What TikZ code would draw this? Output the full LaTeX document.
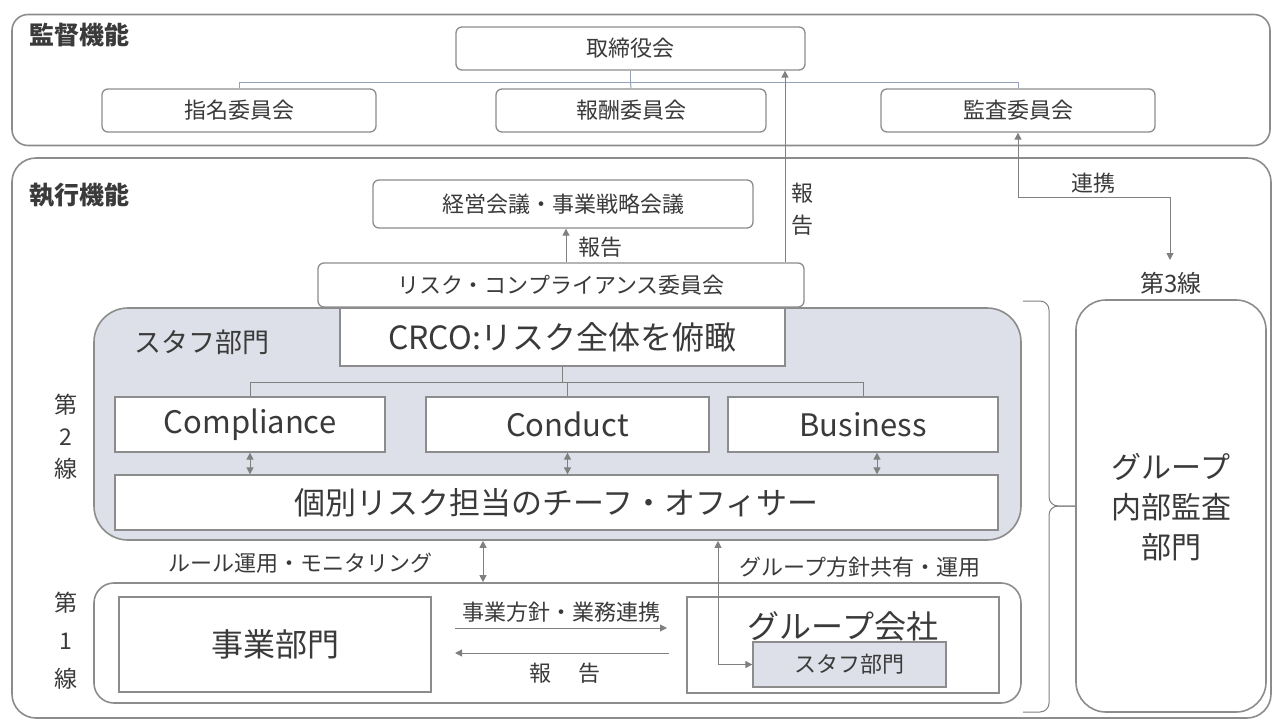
\documentclass[tikz,border=0pt]{standalone}
\usepackage{fontspec}
\setmainfont{Noto Sans CJK JP}
\usepackage{tikz}
\usetikzlibrary{arrows.meta,positioning}

\definecolor{txtgray}{RGB}{58,58,58}
\definecolor{bdgray}{RGB}{140,140,140}
\definecolor{lngray}{RGB}{128,128,128}
\definecolor{blgray}{RGB}{150,162,188}
\definecolor{stafffill}{RGB}{221,224,232}
\newcommand{\fsz}[2]{\fontsize{#1}{#2}\selectfont}

\begin{document}
\begin{tikzpicture}[x=1pt,y=-1pt,
  box/.style={draw=bdgray,line width=1.3pt,rounded corners=6pt,fill=white,
              inner sep=0pt,text=txtgray,font=\fsz{22}{26}},
  sqbox/.style={draw=bdgray,line width=1.3pt,fill=white,inner sep=0pt,text=txtgray},
  area/.style={draw=bdgray,line width=1.6pt,inner sep=0pt},
  lbl/.style={text=txtgray,inner sep=0pt,font=\fsz{22}{26}},
  conn/.style={draw=blgray,line width=1pt},
  link/.style={draw=lngray,line width=1pt},
  tri/.tip={Triangle[width=7pt,length=7pt]},
  up/.style={link,-tri},
  both/.style={link,tri-tri}]
\useasboundingbox (0,0) rectangle (1272,720);

% oversight
\node[area,rounded corners=16pt,minimum width=1258pt,minimum height=131pt] (oversight) at (641,80) {};
\node[lbl,anchor=west,font=\fsz{25}{28}\bfseries] (oversightlbl) at (29,35) {監督機能};
\node[box,minimum width=349pt,minimum height=43pt] (board) at (630.5,48.5) {取締役会};
\node[box,minimum width=274pt,minimum height=43pt] (nomin) at (239,110.5) {指名委員会};
\node[box,minimum width=270pt,minimum height=43pt] (remun) at (631,110.5) {報酬委員会};
\node[box,minimum width=274pt,minimum height=43pt] (audit) at (1018,110.5) {監査委員会};

% execution
\node[area,rounded corners=24pt,minimum width=1259pt,minimum height=560pt] (exec) at (641.5,438) {};
\node[lbl,anchor=west,font=\fsz{25}{28}\bfseries] (execlbl) at (29,195) {執行機能};
\node[box,minimum width=380pt,minimum height=48pt] (mgmt) at (563,204) {経営会議・事業戦略会議};
\node[box,minimum width=486pt,minimum height=44pt] (rcc) at (561,285) {リスク・コンプライアンス委員会};

% second line
\node[area,fill=stafffill,rounded corners=34pt,minimum width=927pt,minimum height=232pt] (staff) at (557.5,424) {};
\node[lbl,font=\fsz{27}{30}] (stafflbl) at (202,342) {スタフ部門};
\node[sqbox,minimum width=445pt,minimum height=58pt,font=\fsz{32}{36}] (crco) at (562.5,337) {CRCO:リスク全体を俯瞰};
\node[sqbox,minimum width=270pt,minimum height=55pt,font=\fsz{31}{34}] (compl) at (250,424.5) {Compliance};
\node[sqbox,minimum width=283pt,minimum height=55pt,font=\fsz{31}{34}] (cond) at (567.5,424.5) {Conduct};
\node[sqbox,minimum width=270pt,minimum height=55pt,font=\fsz{31}{34}] (busi) at (863,424.5) {Business};
\node[sqbox,minimum width=883pt,minimum height=55pt,font=\fsz{31}{34}] (chief) at (556.5,502.5) {個別リスク担当のチーフ・オフィサー};
\node[lbl,align=center,font=\fsz{23}{32}] (line2) at (66,437) {第\\2\\線};

% first line
\node[area,rounded corners=20pt,minimum width=927pt,minimum height=120pt] (line1box) at (557.5,643) {};
\node[lbl,align=center,font=\fsz{23}{38}] (line1) at (66,641) {第\\1\\線};
\node[sqbox,minimum width=312pt,minimum height=95pt,font=\fsz{32}{36}] (bizdiv) at (275,644.5) {事業部門};
\node[sqbox,minimum width=312pt,minimum height=96pt] (grpco) at (843,645) {};
\node[lbl,font=\fsz{32}{36}] (grpcolbl) at (843,626) {グループ会社};
\node[sqbox,fill=stafffill,minimum width=193pt,minimum height=45pt,font=\fsz{22}{26}] (gstaff) at (849.5,664.5) {スタフ部門};

% third line
\node[lbl,font=\fsz{24}{28}] (line3) at (1171,283) {第3線};
\node[area,rounded corners=30pt,minimum width=190pt,minimum height=412pt] (iad) at (1171,506) {};
\node[lbl,align=center,font=\fsz{30}{40}] (iadlbl) at (1171,507) {グループ\\内部監査\\部門};

% labels
\node[lbl,align=center,font=\fsz{22}{32}] (rep1) at (802,209) {報\\告};
\node[lbl] (rep2) at (600,247) {報告};
\node[lbl] (coop) at (1093,183) {連携};
\node[lbl] (rule) at (300,563) {ルール運用・モニタリング};
\node[lbl] (policy) at (860,567) {グループ方針共有・運用};
\node[lbl] (bizpol) at (561,612) {事業方針・業務連携};
\node[lbl] (rep3) at (565,673) {報\hspace{1.2em}告};

% connectors
\draw[conn] (board.south) -- ++(0,11.5) coordinate (bj) -| (nomin.north);
\draw[conn] (bj) -| (audit.north);
\draw[conn] (bj) -- (remun.north);
\coordinate (repx) at (785,0);
\draw[up] (repx |- rcc.north) -- (repx |- board.south);
\draw[up] (rcc.north -| 566,0) -- (mgmt.south -| 566,0);
\draw[link,tri-tri] (audit.south) |- (1170,197) -- (1170,260);
\draw[link] (crco.south) -- ++(0,16) coordinate (cj) -| (compl.north);
\draw[link] (cj) -| (busi.north);
\draw[link] (cj) -- (cj -| cond.north) -- (cond.north);
\draw[both] (compl.south) -- (compl.south |- chief.north);
\draw[both] (cond.south) -- (cond.south |- chief.north);
\coordinate (bx) at (877,0);
\draw[both] (bx |- busi.south) -- (bx |- chief.north);
\coordinate (rx) at (483,0);
\draw[both] (rx |- staff.south) -- (rx |- line1box.north);
\coordinate (gx) at (718,0);
\draw[both] (gx |- staff.south) -- (gx |- gstaff.west) -- (gstaff.west);
\draw[link,-tri] (455,628) -- (667,628);
\draw[link,-tri] (669,653) -- (455,653);
\coordinate (brtip) at (1049,506);
\draw[link,rounded corners=9pt] (1023,301) -| (brtip) -- (iad.west);
\draw[link,rounded corners=9pt] (iad.west) -- (brtip) |- (1023,712);
\end{tikzpicture}
\end{document}
